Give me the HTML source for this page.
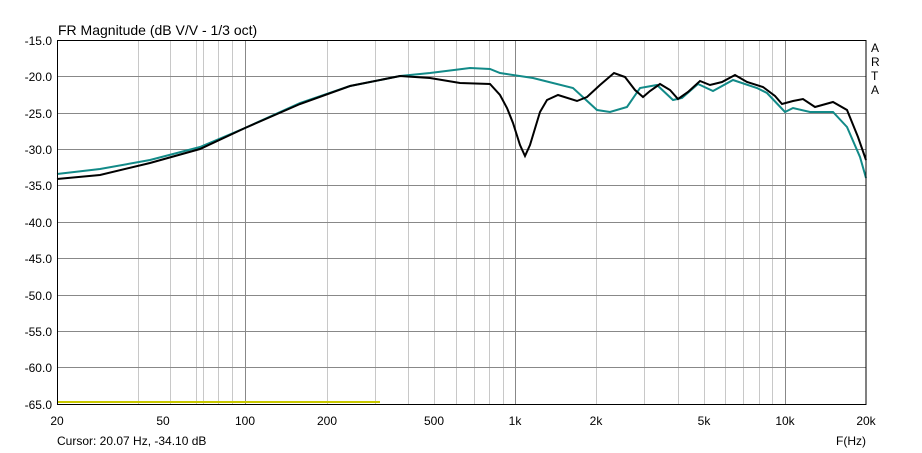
<!DOCTYPE html>
<html><head><meta charset="utf-8"><style>
body{margin:0;background:#fff;}
svg{display:block;font-family:"Liberation Sans",sans-serif;}
</style></head><body>
<svg width="922" height="453" xmlns="http://www.w3.org/2000/svg">
<rect width="922" height="453" fill="#fff"/>
<g stroke="#c8c8c8" stroke-width="1">
<line x1="138.5" y1="40" x2="138.5" y2="404"/><line x1="170.5" y1="40" x2="170.5" y2="404"/><line x1="196.5" y1="40" x2="196.5" y2="404"/><line x1="203.5" y1="40" x2="203.5" y2="404"/><line x1="218.5" y1="40" x2="218.5" y2="404"/><line x1="232.5" y1="40" x2="232.5" y2="404"/>
<line x1="327.5" y1="40" x2="327.5" y2="404"/><line x1="375.5" y1="40" x2="375.5" y2="404"/><line x1="408.5" y1="40" x2="408.5" y2="404"/><line x1="434.5" y1="40" x2="434.5" y2="404"/><line x1="456.5" y1="40" x2="456.5" y2="404"/><line x1="474.5" y1="40" x2="474.5" y2="404"/><line x1="489.5" y1="40" x2="489.5" y2="404"/><line x1="503.5" y1="40" x2="503.5" y2="404"/>
<line x1="596.5" y1="40" x2="596.5" y2="404"/><line x1="644.5" y1="40" x2="644.5" y2="404"/><line x1="678.5" y1="40" x2="678.5" y2="404"/><line x1="704.5" y1="40" x2="704.5" y2="404"/><line x1="725.5" y1="40" x2="725.5" y2="404"/><line x1="743.5" y1="40" x2="743.5" y2="404"/><line x1="759.5" y1="40" x2="759.5" y2="404"/><line x1="772.5" y1="40" x2="772.5" y2="404"/>
</g>
<g stroke="#888" stroke-width="1">
<line x1="245.5" y1="40" x2="245.5" y2="404"/><line x1="515.5" y1="40" x2="515.5" y2="404"/><line x1="785.5" y1="40" x2="785.5" y2="404"/>
<line x1="57" y1="76.5" x2="866" y2="76.5"/><line x1="57" y1="113.5" x2="866" y2="113.5"/><line x1="57" y1="149.5" x2="866" y2="149.5"/><line x1="57" y1="185.5" x2="866" y2="185.5"/><line x1="57" y1="222.5" x2="866" y2="222.5"/><line x1="57" y1="258.5" x2="866" y2="258.5"/><line x1="57" y1="295.5" x2="866" y2="295.5"/><line x1="57" y1="331.5" x2="866" y2="331.5"/><line x1="57" y1="367.5" x2="866" y2="367.5"/>
</g>
<line x1="57" y1="402" x2="380" y2="402" stroke="#c8c800" stroke-width="2"/>
<polyline fill="none" stroke="#128a88" stroke-width="2" points="57,174 100,169 150,160 200,147 245,128 300,103 350,86 400,76 430,73 470,68 490,69 500,73 533,78 573,88 597,110 610,112 627,107 640,88 657,85 673,100 682,98 698,84 713,91 733,80 757,88 767,93 785,112 793,108 810,112 833,112 847,127 860,157 866,178"/>
<polyline fill="none" stroke="#000" stroke-width="2" points="57,179 100,175 150,163 200,149 245,128 300,104 350,86 400,76 430,78 460,83 490,84 500,95 507,108 513,123 520,145 525,156 530,145 540,112 547,100 558,95 577,101 587,97 600,85 614,73 625,77 635,90 643,97 650,91 660,84 670,90 678,99 688,92 700,81 710,85 722,82 735,75 747,82 763,87 775,96 782,104 793,101 803,99 815,107 833,102 847,110 858,137 866,160"/>
<rect x="57.5" y="40.5" width="808.5" height="364" fill="none" stroke="#000" stroke-width="1"/>
<g font-size="12" fill="#000">
<text x="58" y="35" font-size="14">FR Magnitude (dB V/V - 1/3 oct)</text>
<g text-anchor="end">
<text x="52" y="45">-15.0</text><text x="52" y="81">-20.0</text><text x="52" y="118">-25.0</text><text x="52" y="154">-30.0</text><text x="52" y="190">-35.0</text><text x="52" y="227">-40.0</text><text x="52" y="263">-45.0</text><text x="52" y="300">-50.0</text><text x="52" y="336">-55.0</text><text x="52" y="372">-60.0</text><text x="52" y="409">-65.0</text>
</g>
<g text-anchor="middle">
<text x="57" y="425">20</text><text x="163" y="425">50</text><text x="245" y="425">100</text><text x="327" y="425">200</text><text x="434" y="425">500</text><text x="515" y="425">1k</text><text x="596" y="425">2k</text><text x="704" y="425">5k</text><text x="785" y="425">10k</text><text x="866" y="425">20k</text>
</g>
<text x="57" y="445">Cursor: 20.07 Hz, -34.10 dB</text>
<text x="866" y="445" text-anchor="end">F(Hz)</text>
<text x="871" y="52">A</text><text x="871" y="66">R</text><text x="871" y="80">T</text><text x="871" y="94">A</text>
</g>
</svg>
</body></html>
